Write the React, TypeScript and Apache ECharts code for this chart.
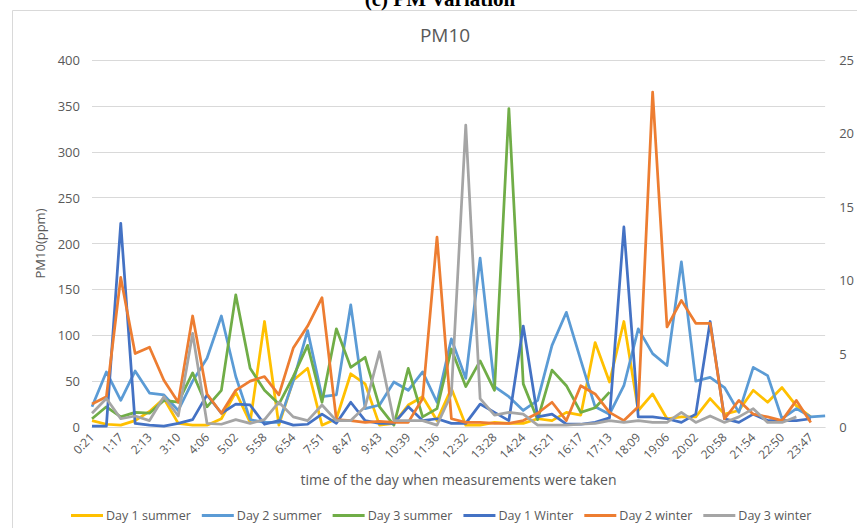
import React, { useEffect, useRef } from "react";
import * as echarts from "echarts";

const categories = [
  "0:21", "0:49", "1:17", "1:45", "2:13", "2:41", "3:10", "3:38", "4:06", "4:34",
  "5:02", "5:30", "5:58", "6:26", "6:54", "7:23", "7:51", "8:19", "8:47", "9:15",
  "9:43", "10:11", "10:39", "11:08", "11:36", "12:04", "12:32", "13:00", "13:28", "13:56",
  "14:24", "14:53", "15:21", "15:49", "16:17", "16:45", "17:13", "17:41", "18:09", "18:38",
  "19:06", "19:34", "20:02", "20:30", "20:58", "21:26", "21:54", "22:22", "22:50", "23:19",
  "23:47", "0:15",
];

const day1Summer = [
  7, 3, 2, 7, 17, 31, 4, 2, 2, 9, 38, 5, 115, 2, 51, 64, 2, 9, 58, 47,
  2, 4, 24, 33, 7, 42, 2, 2, 5, 4, 4, 9, 7, 16, 13, 92, 49, 115, 18, 36,
  9, 11, 11, 31, 14, 18, 40, 27, 43, 23, 11, null,
];
const day2Summer = [
  22, 60, 29, 61, 37, 35, 18, 50, 75, 121, 55, 8, 5, 5, 50, 105, 33, 35, 133, 20,
  24, 49, 40, 60, 27, 96, 53, 184, 44, 33, 18, 29, 89, 125, 73, 22, 14, 45, 107, 80,
  67, 180, 50, 54, 43, 16, 65, 56, 9, 20, 11, 12,
];
const day3Summer = [
  9, 22, 11, 16, 15, 29, 27, 59, 22, 40, 144, 64, 40, 25, 55, 89, 27, 107, 65, 76,
  22, 2, 64, 11, 20, 85, 44, 72, 40, 347, 47, 8, 62, 45, 16, 21, 38, null, null, null,
  null, null, null, null, null, null, null, null, null, null, null, null,
];
const day1Winter = [
  1, 1, 222, 4, 2, 1, 4, 8, 35, 15, 25, 24, 3, 7, 2, 3, 14, 4, 27, 7,
  4, 4, 22, 7, 9, 4, 4, 25, 16, 7, 110, 11, 14, 3, 3, 5, 10, 218, 11, 11,
  9, 5, 14, 115, 9, 5, 14, 7, 7, 7, 9, null,
];
const day2Winter = [
  25, 33, 163, 80, 87, 51, 27, 121, 36, 15, 40, 50, 55, 35, 86, 110, 141, 8, 7, 5,
  6, 5, 5, 31, 207, 9, 5, 5, 4, 4, 7, 15, 27, 7, 45, 36, 16, 7, 22, 365,
  109, 138, 113, 113, 9, 29, 14, 11, 7, 29, 5, null,
];
const day3Winter = [
  15, 31, 9, 12, 7, 33, 12, 102, 4, 3, 8, 4, 8, 27, 11, 7, 24, 7, 7, 22,
  82, 7, 7, 7, 2, 36, 329, 31, 13, 16, 14, 2, 2, 2, 3, 4, 7, 5, 7, 5,
  5, 16, 5, 12, 5, 11, 20, 5, 5, 11, null, null,
];

const seriesNames = ["Day 1 summer", "Day 2 summer", "Day 3 summer", "Day 1 Winter", "Day 2 winter", "Day 3 winter"];
const seriesData = [day1Summer, day2Summer, day3Summer, day1Winter, day2Winter, day3Winter];
const seriesColors = ["#FFC000", "#5B9BD5", "#70AD47", "#4472C4", "#ED7D31", "#A5A5A5"];

const leftTicks = { min: 0, max: 400, interval: 50 };
const rightTicks = { min: 0, max: 25, interval: 5 };

const FONT = "Open Sans";
const TXT = "#595959";

export default function App() {
  const ref = useRef<HTMLDivElement>(null);
  useEffect(() => {
    if (!ref.current) return;
    const chart = echarts.init(ref.current, undefined, { renderer: "svg" });
    chart.setOption({
      animation: false,
      backgroundColor: "#ffffff",
      textStyle: { fontFamily: FONT, color: TXT },
      title: {
        text: "PM10",
        left: 440,
        textAlign: "center",
        top: 20,
        textStyle: { fontFamily: FONT, fontSize: 19, fontWeight: "normal", color: TXT },
      },
      graphic: [
        {
          type: "rect",
          shape: { x: 12.5, y: 10.5, width: 900, height: 600 },
          style: { fill: "none", stroke: "#D9D9D9", lineWidth: 1 },
          silent: true,
        },
        {
          type: "text",
          x: 440,
          y: 9,
          style: {
            text: "(c) PM Variation",
            font: "bold 21px 'Liberation Serif', serif",
            fill: "#000000",
            textAlign: "center",
            textVerticalAlign: "bottom",
          },
        },
      ],
      legend: {
        data: seriesNames,
        left: 66,
        top: 504,
        icon: "rect",
        itemWidth: 32,
        itemHeight: 3,
        itemGap: 11,
        textStyle: { fontFamily: FONT, fontSize: 12.5, color: TXT, padding: [0, 0, 0, -2] },
      },
      grid: { left: 92, right: 29, top: 60, bottom: 101, containLabel: false },
      xAxis: {
        type: "category",
        data: categories,
        boundaryGap: false,
        name: "time of the day when measurements were taken",
        nameLocation: "middle",
        nameGap: 45,
        nameTextStyle: { fontFamily: FONT, fontSize: 14, color: TXT },
        axisLine: { show: true, lineStyle: { color: "#D9D9D9", width: 1 } },
        axisTick: { show: false },
        axisLabel: {
          interval: 1,
          rotate: 45,
          margin: 8,
          fontFamily: FONT,
          fontSize: 12,
          color: TXT,
        },
        splitLine: { show: false },
      },
      yAxis: [
        {
          type: "value",
          min: leftTicks.min,
          max: leftTicks.max,
          interval: leftTicks.interval,
          name: "PM10(ppm)",
          nameLocation: "middle",
          nameGap: 44,
          nameTextStyle: { fontFamily: FONT, fontSize: 13, color: TXT },
          axisLine: { show: false },
          axisTick: { show: false },
          axisLabel: { margin: 12, fontFamily: FONT, fontSize: 13, color: TXT },
          splitLine: { show: true, lineStyle: { color: "#D9D9D9", width: 1 } },
        },
        {
          type: "value",
          position: "right",
          min: rightTicks.min,
          max: rightTicks.max,
          interval: rightTicks.interval,
          axisLine: { show: false },
          axisTick: { show: false },
          axisLabel: { margin: 14, fontFamily: FONT, fontSize: 13, color: TXT },
          splitLine: { show: false },
        },
      ],
      series: seriesNames.map((name, i) => ({
        name,
        type: "line",
        yAxisIndex: 0,
        data: seriesData[i],
        showSymbol: false,
        symbol: "none",
        connectNulls: false,
        lineStyle: { color: seriesColors[i], width: 2.75, join: "round" },
        itemStyle: { color: seriesColors[i] },
      })),
    });
    return () => chart.dispose();
  }, []);
  return (
    <div
      ref={ref}
      style={{ position: "absolute", left: 0, top: 0, width: 857, height: 528, background: "#fff" }}
    />
  );
}
